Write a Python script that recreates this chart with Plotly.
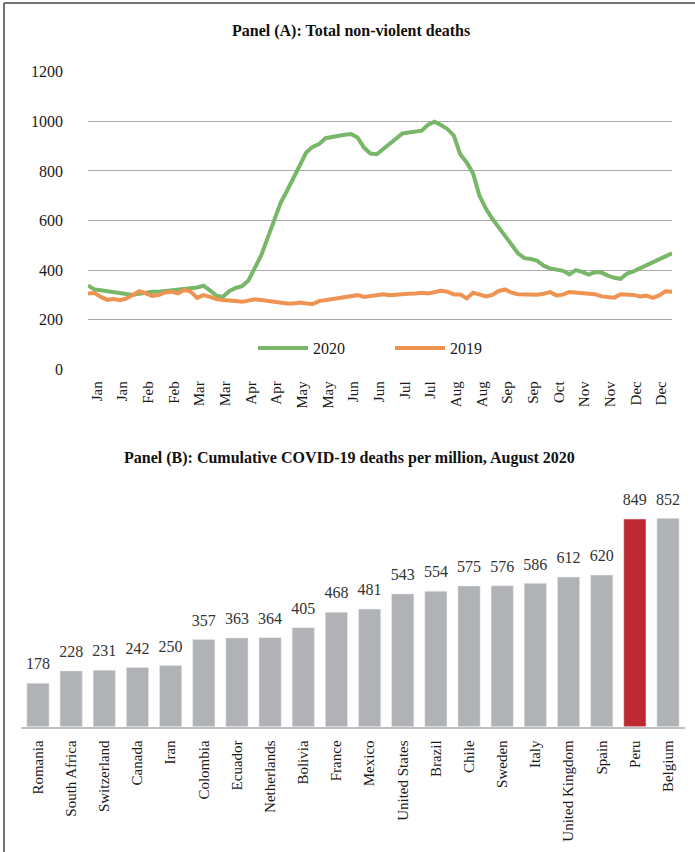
import plotly.graph_objects as go

# Panel A: total non-violent deaths, sampled every 4 days of the year
days = list(range(0, 365, 4))

deaths_2020 = [
    338, 322, 319, 316, 313, 310, 306, 300, 305, 310, 313, 313, 315, 318, 319, 325,
    327, 330, 337, 318, 297, 292, 315, 328, 335, 358, 410, 460, 530, 600, 670, 719,
    773, 820, 874, 897, 908, 932, 938, 942, 946, 949, 935, 894, 870, 867, 888, 908,
    928, 951, 955, 959, 962, 986, 998, 985, 969, 942, 867, 834, 790, 700, 648, 607,
    572, 537, 497, 468, 448, 445, 437, 418, 407, 403, 397, 383, 400, 393, 382, 392,
    390, 378, 369, 365, 386, 395, 407, 421, 432, 445, 458, 468,
]

deaths_2019 = [
    306, 308, 292, 280, 283, 279, 286, 299, 315, 306, 296, 299, 310, 313, 306, 320,
    313, 288, 299, 292, 283, 279, 279, 275, 272, 279, 282, 279, 275, 272, 270, 265,
    265, 269, 265, 263, 275, 279, 286, 290, 292, 299, 299, 292, 295, 299, 303, 299,
    302, 302, 305, 306, 309, 306, 310, 317, 313, 302, 302, 286, 309, 302, 294, 300,
    316, 322, 309, 303, 302, 300, 301, 305, 311, 298, 301, 312, 309, 306, 306, 303,
    294, 292, 289, 303, 303, 300, 294, 297, 288, 298, 315, 313,
]

month_labels = ['Jan', 'Jan', 'Feb', 'Feb', 'Mar', 'Mar', 'Apr', 'Apr', 'May', 'May',
                'Jun', 'Jun', 'Jul', 'Jul', 'Aug', 'Aug', 'Sep', 'Sep', 'Oct', 'Nov',
                'Nov', 'Dec', 'Dec']
tick_days = [5.5 + 16 * i for i in range(len(month_labels))]

# Panel B: cumulative COVID-19 deaths per million, August 2020
countries = ['Romania', 'South Africa', 'Switzerland', 'Canada', 'Iran', 'Colombia',
             'Ecuador', 'Netherlands', 'Bolivia', 'France', 'Mexico', 'United States',
             'Brazil', 'Chile', 'Sweden', 'Italy', 'United Kingdom', 'Spain', 'Peru',
             'Belgium']
covid_deaths = [178, 228, 231, 242, 250, 357, 363, 364, 405, 468, 481, 543,
                554, 575, 576, 586, 612, 620, 849, 852]
highlight = 'Peru'

W, H = 695, 852
FONT = 'Liberation Serif'
GREEN = '#78B668'
ORANGE = '#EE9352'
GREY_BAR = '#B1B2B5'
RED_BAR = '#BE2830'


def px_x(p):
    return p / W


def px_y(p):
    return 1 - p / H


fig = go.Figure()

fig.add_trace(go.Scatter(x=days, y=deaths_2020, name='2020', mode='lines',
                         line=dict(color=GREEN, width=4), xaxis='x', yaxis='y'))
fig.add_trace(go.Scatter(x=days, y=deaths_2019, name='2019', mode='lines',
                         line=dict(color=ORANGE, width=4), xaxis='x', yaxis='y'))

bar_colors = [RED_BAR if c == highlight else GREY_BAR for c in countries]
fig.add_trace(go.Bar(x=countries, y=covid_deaths, marker_color=bar_colors,
                     showlegend=False, xaxis='x2', yaxis='y2'))
# data labels sit a little higher above the bars than plotly's bar text does
fig.add_trace(go.Scatter(x=countries, y=covid_deaths, mode='markers+text',
                         text=[str(v) for v in covid_deaths], textposition='top center',
                         marker=dict(size=14, opacity=0),
                         textfont=dict(family=FONT, size=16, color='#333333'),
                         cliponaxis=False, showlegend=False, hoverinfo='skip',
                         xaxis='x2', yaxis='y2'))

fig.update_layout(
    width=W, height=H,
    margin=dict(l=0, r=0, t=0, b=0, autoexpand=False),
    paper_bgcolor='white', plot_bgcolor='white',
    font=dict(family=FONT, size=16, color='#1a1a1a'),
    bargap=0.33,
    xaxis=dict(domain=[px_x(88), px_x(672)], anchor='y', range=[0, 364],
               tickvals=tick_days, ticktext=month_labels, tickangle=-90,
               tickfont=dict(size=15), showgrid=False, zeroline=False,
               showline=False, ticks='', ticklabelstandoff=8, automargin=False),
    yaxis=dict(domain=[px_y(369.3), px_y(71.7)], anchor='x', range=[0, 1200],
               dtick=200, showgrid=True, gridcolor='#A9A9A9', gridwidth=1,
               zeroline=False, showline=False, ticks='', ticklabelstandoff=24,
               tickfont=dict(size=16), automargin=False),
    xaxis2=dict(domain=[px_x(21.4), px_x(684.6)], anchor='y2', type='category',
                range=[-0.5, len(countries) - 0.5],
                tickangle=-90, tickfont=dict(size=15), showgrid=False,
                zeroline=False, showline=True, linecolor='#BFBFBF', linewidth=1.5,
                ticks='', ticklabelstandoff=6, automargin=False),
    yaxis2=dict(domain=[px_y(726.7), px_y(490)], anchor='x2', range=[0, 967.7],
                visible=False, automargin=False),
    legend=dict(orientation='h', x=px_x(253), xanchor='left',
                y=px_y(348), yanchor='middle', bgcolor='rgba(0,0,0,0)',
                itemwidth=50, entrywidth=72, font=dict(size=16)),
    annotations=[
        dict(text='<b>Panel (A): Total non-violent deaths</b>', x=px_x(351), y=px_y(31),
             xref='paper', yref='paper', yanchor='middle', showarrow=False,
             font=dict(size=16, color='#111111')),
        dict(text='<b>Panel (B): Cumulative COVID-19 deaths per million, August 2020</b>',
             x=px_x(349), y=px_y(458), xref='paper', yref='paper', yanchor='middle',
             showarrow=False, font=dict(size=16, color='#111111')),
    ],
    shapes=[
        dict(type='line', xref='paper', yref='paper', x0=px_x(4), x1=px_x(4),
             y0=0, y1=px_y(3), line=dict(color='#444444', width=1.5)),
        dict(type='line', xref='paper', yref='paper', x0=px_x(4), x1=1,
             y0=px_y(3), y1=px_y(3), line=dict(color='#444444', width=1.5)),
    ],
)

# drop the default page margin so the figure sits at the window's origin
fig.write_html('out.html', post_script="document.body.style.margin='0';",
               config={'displayModeBar': False})
